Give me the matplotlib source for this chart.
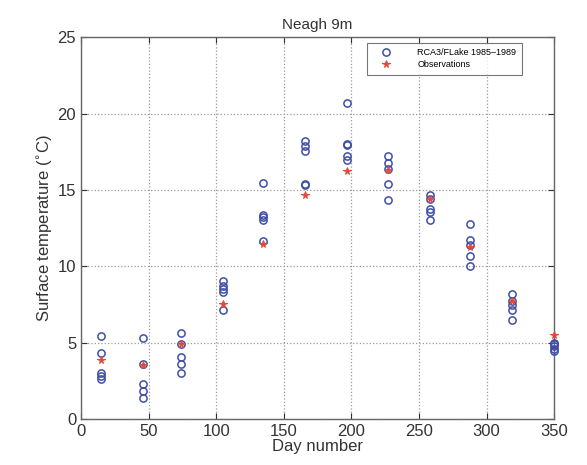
import numpy as np
import matplotlib.pyplot as plt

plt.rcParams['font.family'] = ['Liberation Sans', 'DejaVu Sans']

# model output: five years (1985-1989) per sampling day
model_days = [15, 46, 74, 105, 135, 166, 197, 227, 258, 288, 319, 350]
model_temps = [
    [5.44, 4.31, 2.99, 2.83, 2.59],
    [5.31, 3.60, 2.27, 1.83, 1.39],
    [5.60, 4.90, 4.07, 3.59, 3.03],
    [9.02, 8.69, 8.52, 8.32, 7.12],
    [15.45, 13.33, 13.20, 13.05, 11.65],
    [18.17, 17.86, 17.54, 15.40, 15.34],
    [20.67, 18.02, 17.95, 17.25, 16.93],
    [17.25, 16.78, 16.40, 15.36, 14.31],
    [14.69, 14.42, 13.77, 13.55, 13.00],
    [12.78, 11.70, 11.37, 10.65, 10.02],
    [8.21, 7.75, 7.12, 6.50, 7.45],
    [5.00, 4.80, 4.60, 4.45, 4.90],
]

# observed surface temperatures
obs_days = [15, 46, 74, 105, 135, 166, 197, 227, 258, 288, 319, 350]
obs_temps = [3.83, 3.55, 4.90, 7.52, 11.45, 14.69, 16.27, 16.32, 14.38, 11.25, 7.70, 5.50]

blue = '#3f4fa8'
red = '#e2493a'

fig = plt.figure(figsize=(5.87, 4.65), dpi=100)
ax = fig.add_axes([0.138, 0.099, 0.806, 0.821])

mx = np.repeat(model_days, [len(t) for t in model_temps])
my = np.concatenate(model_temps)
ax.plot(mx, my, 'o', mfc='none', mec=blue, mew=1.1, ms=5.2,
        label='RCA3/FLake 1985\u20131989', clip_on=False, zorder=3)
ax.plot(obs_days, obs_temps, '*', color=red, ms=5.5, mew=0.8,
        label='Observations', clip_on=False, zorder=4)

ax.set_xlim(0, 350)
ax.set_ylim(0, 25)
ax.set_xticks(np.arange(0, 351, 50))
ax.set_yticks(np.arange(0, 26, 5))
ax.grid(True, linestyle=':', color='#9a9a9a', linewidth=0.9)
ax.tick_params(direction='in', labelsize=12, colors='#333333', length=4,
               top=True, right=True)
for s in ax.spines.values():
    s.set_color('#666666')
    s.set_linewidth(1.0)

ax.set_title('Neagh 9m', fontsize=11, color='#333333', pad=6)
ax.set_xlabel('Day number', fontsize=12, color='#333333', labelpad=0)
ax.set_ylabel('Surface temperature ($^{\\circ}$C)', fontsize=12, color='#333333', labelpad=2)

leg = ax.legend(loc='upper right', bbox_to_anchor=(0.935, 0.99), fontsize=6.5,
                frameon=True, fancybox=False, edgecolor='#555555',
                handlelength=3.2, handletextpad=1.8, borderpad=0.6,
                labelspacing=0.35, borderaxespad=0.2)
leg.get_frame().set_linewidth(0.8)

fig.savefig('out.png', dpi=100)
